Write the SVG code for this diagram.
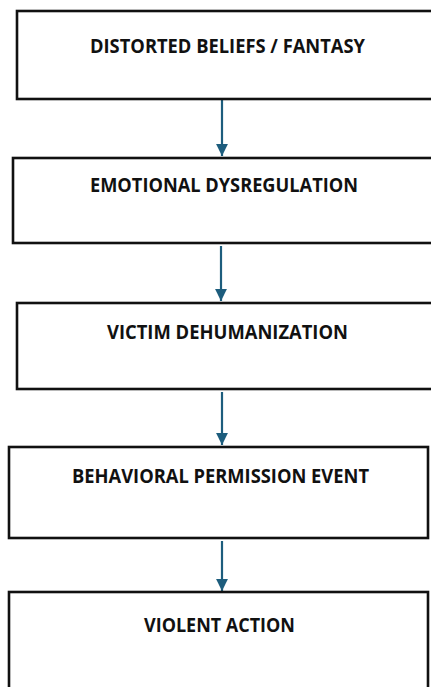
<svg xmlns="http://www.w3.org/2000/svg" width="431" height="687" viewBox="0 0 431 687">
<defs>
<style>
.box{fill:#ffffff;stroke:#111111;stroke-width:2.6}
.lbl{font-family:"Open Sans","Liberation Sans",sans-serif;font-weight:bold;font-size:19.5px;fill:#111111;text-anchor:middle}
.conn{stroke:#1d5d7d;stroke-width:2.2;fill:none}
</style>
<marker id="ah" viewBox="0 0 10 10" refX="10" refY="5" markerWidth="5.4" markerHeight="5.4" orient="auto" markerUnits="strokeWidth">
<path d="M0,0 L10,5 L0,10 z" fill="#1d5d7d"/>
</marker>
</defs>
<rect width="431" height="687" fill="#ffffff"/>
<g id="connectors">
<line class="conn" x1="222" y1="100" x2="222" y2="156" marker-end="url(#ah)"/>
<line class="conn" x1="221" y1="246" x2="221" y2="301" marker-end="url(#ah)"/>
<line class="conn" x1="222" y1="392" x2="222" y2="445" marker-end="url(#ah)"/>
<line class="conn" x1="222" y1="541" x2="222" y2="591" marker-end="url(#ah)"/>
</g>
<g id="node1">
<rect class="box" x="17" y="11" width="430" height="88"/>
<text class="lbl" x="227.5" y="53" textLength="275" lengthAdjust="spacingAndGlyphs">DISTORTED BELIEFS / FANTASY</text>
</g>
<g id="node2">
<rect class="box" x="13" y="158" width="434" height="85"/>
<text class="lbl" x="224" y="192" textLength="268" lengthAdjust="spacingAndGlyphs">EMOTIONAL DYSREGULATION</text>
</g>
<g id="node3">
<rect class="box" x="17" y="303" width="430" height="86"/>
<text class="lbl" x="227.5" y="339" textLength="241" lengthAdjust="spacingAndGlyphs">VICTIM DEHUMANIZATION</text>
</g>
<g id="node4">
<rect class="box" x="9" y="447" width="419" height="91"/>
<text class="lbl" x="220.5" y="483" textLength="297" lengthAdjust="spacingAndGlyphs">BEHAVIORAL PERMISSION EVENT</text>
</g>
<g id="node5">
<rect class="box" x="9" y="592" width="419" height="110"/>
<text class="lbl" x="219.5" y="632" textLength="151" lengthAdjust="spacingAndGlyphs">VIOLENT ACTION</text>
</g>
</svg>
